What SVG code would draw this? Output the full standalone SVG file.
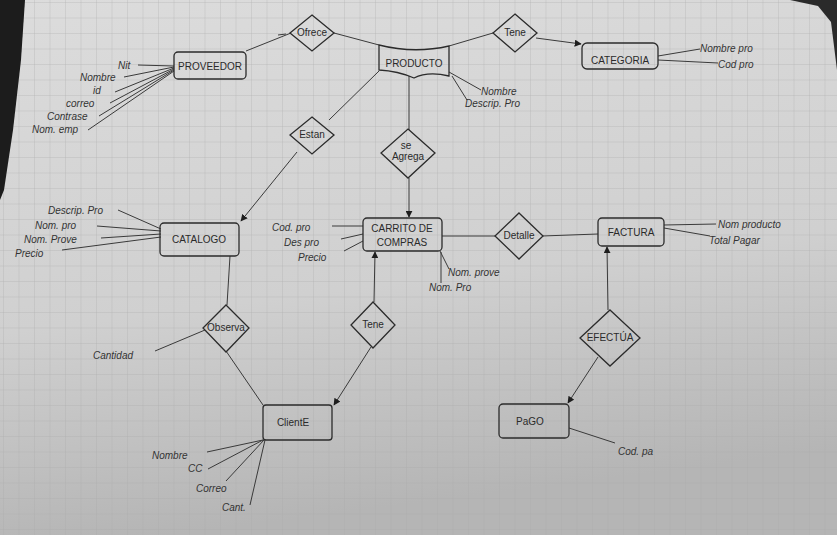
<svg xmlns="http://www.w3.org/2000/svg" width="837" height="535" viewBox="0 0 837 535">
<defs>
<style>
.ent{fill:none;stroke:#2b2b2b;stroke-width:1.3}
.rel{fill:none;stroke:#2b2b2b;stroke-width:1.3}
.ln{fill:none;stroke:#3a3a3a;stroke-width:1}
.t{font-family:"Liberation Sans","DejaVu Sans",sans-serif;font-size:10px;fill:#2a2a2a}
.tl{font-family:"Liberation Sans","DejaVu Sans",sans-serif;font-size:10px;fill:#2a2a2a;text-anchor:middle}
.a{font-family:"Liberation Sans","DejaVu Sans",sans-serif;font-size:10px;fill:#333;font-style:italic}
</style>
<pattern id="grid" width="15.5" height="15.5" patternUnits="userSpaceOnUse" x="3" y="2">
<path d="M15.5 0H0V15.5" fill="none" stroke="#a9a9a9" stroke-width="0.7"/>
</pattern>
<linearGradient id="paper" x1="0" y1="0" x2="0.2" y2="1">
<stop offset="0" stop-color="#dcdcdc"/>
<stop offset="0.6" stop-color="#d0d0d0"/>
<stop offset="1" stop-color="#b5b5b5"/>
</linearGradient>
<marker id="arr" viewBox="0 0 10 10" refX="9" refY="5" markerWidth="7" markerHeight="7" orient="auto-start-reverse">
<path d="M0 0L10 5L0 10z" fill="#1e1e1e"/>
</marker>
</defs>
<g id="paper-bg">
<rect width="837" height="535" fill="url(#paper)"/>
<rect width="837" height="535" fill="url(#grid)" opacity="0.8"/>
<polygon points="0,0 25,0 21,60 13,130 4,190 0,200" fill="#1c1c1c"/>
<polygon points="790,0 837,0 837,70 831,22 818,6" fill="#2a2a2a"/>
</g>
<g id="connectors">
<line class="ln" x1="246" y1="51" x2="291" y2="33"/>
<line class="ln" x1="278" y1="35" x2="286" y2="34"/>
<line class="ln" x1="334" y1="33" x2="379" y2="45"/>
<line class="ln" x1="449" y1="46" x2="493" y2="33"/>
<line class="ln" x1="536" y1="38" x2="581" y2="44" marker-end="url(#arr)"/>
<line class="ln" x1="379" y1="71" x2="329" y2="120"/>
<line class="ln" x1="297" y1="152" x2="241" y2="221" marker-end="url(#arr)"/>
<line class="ln" x1="409" y1="76" x2="409" y2="130"/>
<line class="ln" x1="409" y1="178" x2="409" y2="217" marker-end="url(#arr)"/>
<line class="ln" x1="442" y1="236" x2="495" y2="236"/>
<line class="ln" x1="542" y1="236" x2="598" y2="234"/>
<line class="ln" x1="230" y1="256" x2="227" y2="305"/>
<line class="ln" x1="226" y1="351" x2="263" y2="405"/>
<line class="ln" x1="374" y1="302" x2="375" y2="252" marker-end="url(#arr)"/>
<line class="ln" x1="371" y1="347" x2="334" y2="405" marker-end="url(#arr)"/>
<line class="ln" x1="608" y1="310" x2="607" y2="247" marker-end="url(#arr)"/>
<line class="ln" x1="598" y1="357" x2="568" y2="403" marker-end="url(#arr)"/>
</g>
<g id="attr-lines">
<line class="ln" x1="138" y1="65" x2="174" y2="66"/>
<line class="ln" x1="124" y1="77" x2="174" y2="67"/>
<line class="ln" x1="115" y1="92" x2="174" y2="68"/>
<line class="ln" x1="110" y1="103" x2="174" y2="69"/>
<line class="ln" x1="99" y1="116" x2="174" y2="70"/>
<line class="ln" x1="88" y1="130" x2="174" y2="71"/>
<line class="ln" x1="449" y1="72" x2="481" y2="90"/>
<line class="ln" x1="452" y1="76" x2="467" y2="100"/>
<line class="ln" x1="658" y1="56" x2="700" y2="49"/>
<line class="ln" x1="658" y1="60" x2="718" y2="63"/>
<line class="ln" x1="118" y1="210" x2="161" y2="229"/>
<line class="ln" x1="97" y1="226" x2="161" y2="231"/>
<line class="ln" x1="101" y1="238" x2="161" y2="234"/>
<line class="ln" x1="62" y1="250" x2="161" y2="237"/>
<line class="ln" x1="332" y1="226" x2="363" y2="226"/>
<line class="ln" x1="341" y1="239" x2="363" y2="234"/>
<line class="ln" x1="344" y1="251" x2="363" y2="241"/>
<line class="ln" x1="440" y1="251" x2="449" y2="269"/>
<line class="ln" x1="441" y1="252" x2="441" y2="283"/>
<line class="ln" x1="664" y1="225" x2="716" y2="224"/>
<line class="ln" x1="664" y1="228" x2="710" y2="236"/>
<line class="ln" x1="155" y1="351" x2="205" y2="330"/>
<line class="ln" x1="263" y1="440" x2="207" y2="452"/>
<line class="ln" x1="263" y1="440" x2="208" y2="469"/>
<line class="ln" x1="264" y1="440" x2="226" y2="481"/>
<line class="ln" x1="265" y1="440" x2="250" y2="505"/>
<line class="ln" x1="569" y1="428" x2="615" y2="443"/>
</g>
<g id="proveedor"><rect class="ent" x="174" y="52" width="72" height="27" rx="4"/><text class="tl" x="210" y="70">PROVEEDOR</text></g>
<g id="producto"><path class="ent" d="M379 45 Q414 54 449 46 L449 76 Q428 71 414 78 Q398 71 379 70 Z"/><text class="tl" x="414" y="67">PRODUCTO</text></g>
<g id="categoria"><rect class="ent" x="582" y="43" width="76" height="26" rx="5"/><text class="tl" x="620" y="64">CATEGORIA</text></g>
<g id="catalogo"><rect class="ent" x="160" y="223" width="79" height="33" rx="4"/><text class="tl" x="199" y="243">CATALOGO</text></g>
<g id="carrito"><rect class="ent" x="363" y="218" width="79" height="33" rx="4"/><text class="tl" x="402" y="232">CARRITO DE</text><text class="tl" x="402" y="246">COMPRAS</text></g>
<g id="factura"><rect class="ent" x="598" y="218" width="66" height="28" rx="4"/><text class="tl" x="631" y="236">FACTURA</text></g>
<g id="cliente"><rect class="ent" x="263" y="405" width="69" height="35" rx="3"/><text class="tl" x="293" y="426" font-size="11">ClientE</text></g>
<g id="pago"><rect class="ent" x="499" y="404" width="70" height="34" rx="4"/><text class="tl" x="530" y="425" font-size="11">PaGO</text></g>
<g id="ofrece"><path class="rel" d="M312 15 L334 33 L312 51 L290 33 Z"/><text class="t" x="312" y="36" text-anchor="middle" font-size="9">Ofrece</text></g>
<g id="tene-top"><path class="rel" d="M515 14 L537 33 L515 52 L493 33 Z"/><text class="t" x="515" y="36" text-anchor="middle">Tene</text></g>
<g id="estan"><path class="rel" d="M312 117 L334 135 L312 154 L290 135 Z"/><text class="t" x="312" y="138" text-anchor="middle" font-size="9">Estan</text></g>
<g id="se-agrega"><path class="rel" d="M408 129 L435 153 L408 178 L381 153 Z"/><text class="t" x="406" y="149" text-anchor="middle" font-size="8">se</text><text class="t" x="408" y="160" text-anchor="middle" font-size="9">Agrega</text></g>
<g id="detalle"><path class="rel" d="M519 213 L543 236 L519 259 L495 236 Z"/><text class="t" x="519" y="239" text-anchor="middle" font-size="9">Detalle</text></g>
<g id="observa"><path class="rel" d="M226 305 L249 328 L226 352 L203 328 Z"/><text class="t" x="226" y="331" text-anchor="middle" font-size="8.5">Observa</text></g>
<g id="tene-low"><path class="rel" d="M373 302 L395 325 L373 348 L351 325 Z"/><text class="t" x="373" y="328" text-anchor="middle">Tene</text></g>
<g id="efectua"><path class="rel" d="M610 310 L640 338 L610 366 L580 338 Z"/><text class="t" x="610" y="341" text-anchor="middle" font-size="8.5">EFECTÚA</text></g>
<g id="attrs">
<text class="a" x="118" y="69">Nit</text>
<text class="a" x="80" y="81">Nombre</text>
<text class="a" x="93" y="94">id</text>
<text class="a" x="66" y="107">correo</text>
<text class="a" x="47" y="120">Contrase</text>
<text class="a" x="32" y="133">Nom. emp</text>
<text class="a" x="481" y="95">Nombre</text>
<text class="a" x="465" y="107">Descrip. Pro</text>
<text class="a" x="700" y="52">Nombre pro</text>
<text class="a" x="718" y="68">Cod pro</text>
<text class="a" x="48" y="214">Descrip. Pro</text>
<text class="a" x="35" y="229">Nom. pro</text>
<text class="a" x="24" y="243">Nom. Prove</text>
<text class="a" x="15" y="257">Precio</text>
<text class="a" x="272" y="231">Cod. pro</text>
<text class="a" x="284" y="246">Des pro</text>
<text class="a" x="298" y="261">Precio</text>
<text class="a" x="448" y="276">Nom. prove</text>
<text class="a" x="429" y="291">Nom. Pro</text>
<text class="a" x="718" y="228" font-size="11">Nom producto</text>
<text class="a" x="709" y="244" font-size="11">Total Pagar</text>
<text class="a" x="93" y="359" font-size="11">Cantidad</text>
<text class="a" x="152" y="459" font-size="11">Nombre</text>
<text class="a" x="188" y="472" font-size="11">CC</text>
<text class="a" x="196" y="492" font-size="11">Correo</text>
<text class="a" x="222" y="511" font-size="11">Cant.</text>
<text class="a" x="618" y="455" font-size="12">Cod. pa</text>
</g>
</svg>
